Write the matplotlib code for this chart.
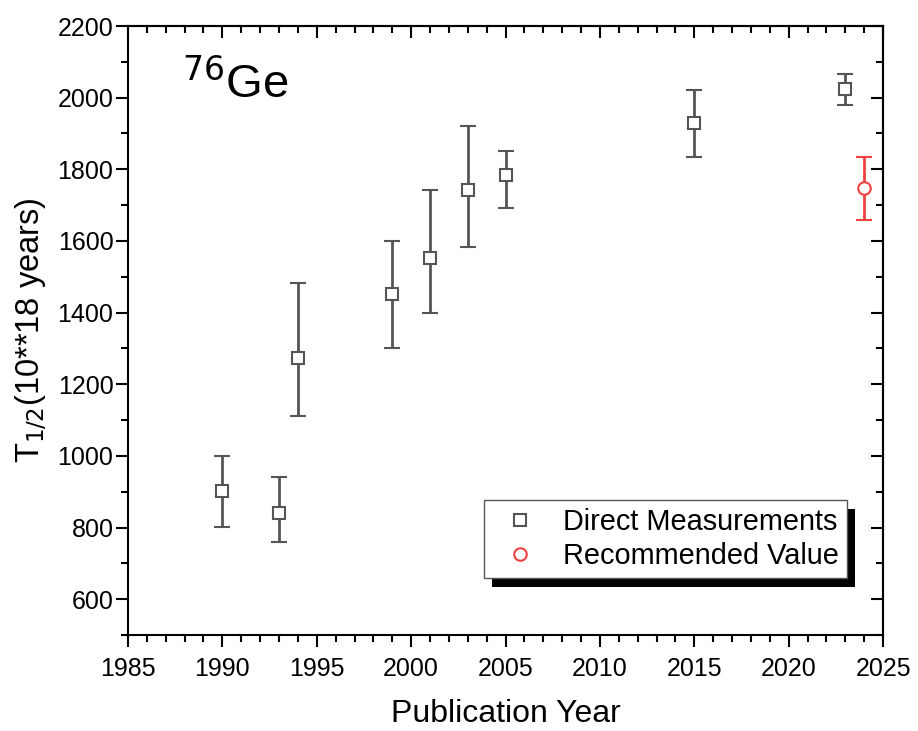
import matplotlib.pyplot as plt
from matplotlib.lines import Line2D
from matplotlib.patches import Rectangle
from matplotlib.ticker import MultipleLocator

plt.rcParams['font.family'] = ['Liberation Sans', 'DejaVu Sans']

# direct measurements
years = [1990, 1993, 1994, 1999, 2001, 2003, 2005, 2015, 2023]
half_life = [901, 842, 1272, 1451, 1552, 1742, 1783, 1928, 2025]
err_low = [100, 82, 160, 150, 152, 160, 92, 95, 45]
err_high = [100, 98, 210, 150, 190, 178, 68, 93, 42]

# recommended value
rec_year = [2024]
rec_value = [1748]
rec_low = [90]
rec_high = [87]

grey = '#555555'
red = '#F04040'

fig = plt.figure(figsize=(9.18, 7.31), dpi=100)
ax = fig.add_axes([0.1394, 0.1313, 0.8226, 0.8331])

ax.errorbar(years, half_life, yerr=[err_low, err_high], fmt='s', color=grey,
            mfc='white', mec=grey, ms=8, mew=1.5, ecolor=grey, elinewidth=2,
            capsize=6, capthick=2)
ax.errorbar(rec_year, rec_value, yerr=[rec_low, rec_high], fmt='o', color=red,
            mfc='white', mec=red, ms=9, mew=1.5, ecolor=red, elinewidth=2,
            capsize=6, capthick=2)

ax.set_xlim(1985, 2025)
ax.set_ylim(500, 2200)
ax.xaxis.set_major_locator(MultipleLocator(5))
ax.xaxis.set_minor_locator(MultipleLocator(1))
ax.yaxis.set_major_locator(MultipleLocator(200))
ax.yaxis.set_minor_locator(MultipleLocator(100))
ax.tick_params(which='both', direction='out', labelsize=18, width=1.5)
ax.tick_params(axis='x', pad=7)
ax.tick_params(axis='y', pad=2)
ax.tick_params(which='major', length=8.5)
ax.tick_params(which='minor', length=5)
for spine in ax.spines.values():
    spine.set_linewidth(1.5)

# inward ticks on the top and right
for pos in ['top', 'right']:
    sec = ax.secondary_xaxis('top') if pos == 'top' else ax.secondary_yaxis('right')
    axis = sec.xaxis if pos == 'top' else sec.yaxis
    axis.set_major_locator(MultipleLocator(5 if pos == 'top' else 200))
    axis.set_minor_locator(MultipleLocator(1 if pos == 'top' else 100))
    sec.tick_params(which='both', direction='in', width=1.5,
                    labeltop=False, labelright=False)
    sec.tick_params(which='major', length=8.5)
    sec.tick_params(which='minor', length=5)
    sec.spines[pos].set_linewidth(1.5)

ax.set_xlabel('Publication Year', fontsize=23, labelpad=13)
ax.set_ylabel('T$_{1/2}$(10**18 years)', fontsize=23.5, labelpad=6)

ax.text(0.072, 0.905, '$^{76}$Ge', transform=ax.transAxes, fontsize=34,
        ha='left', va='center')

handles = [
    Line2D([], [], ls='none', marker='s', ms=8, mew=1.5, mfc='white', mec=grey),
    Line2D([], [], ls='none', marker='o', ms=9, mew=1.5, mfc='white', mec=red),
]
labels = ['Direct Measurements', 'Recommended Value']
leg = ax.legend(handles, labels, loc='upper left', bbox_to_anchor=(0.4715, 0.2217),
                borderaxespad=0, fontsize=20.8, frameon=True, fancybox=False,
                edgecolor=grey, framealpha=1, handletextpad=0.55,
                borderpad=0.28, labelspacing=0.2, handlelength=1.9)
leg.get_frame().set_linewidth(1)
leg.set_zorder(5)

# solid black drop shadow behind the legend
fig.canvas.draw()
bb = leg.get_window_extent()
inv = ax.transAxes.inverted()
(x0, y0), (x1, y1) = inv.transform([[bb.x0 + 8, bb.y0 - 9], [bb.x1 + 8, bb.y1 - 9]])
ax.add_patch(Rectangle((x0, y0), x1 - x0, y1 - y0, transform=ax.transAxes,
                       facecolor='black', edgecolor='none', zorder=4.5,
                       clip_on=False))

fig.savefig('out.png', dpi=100)
